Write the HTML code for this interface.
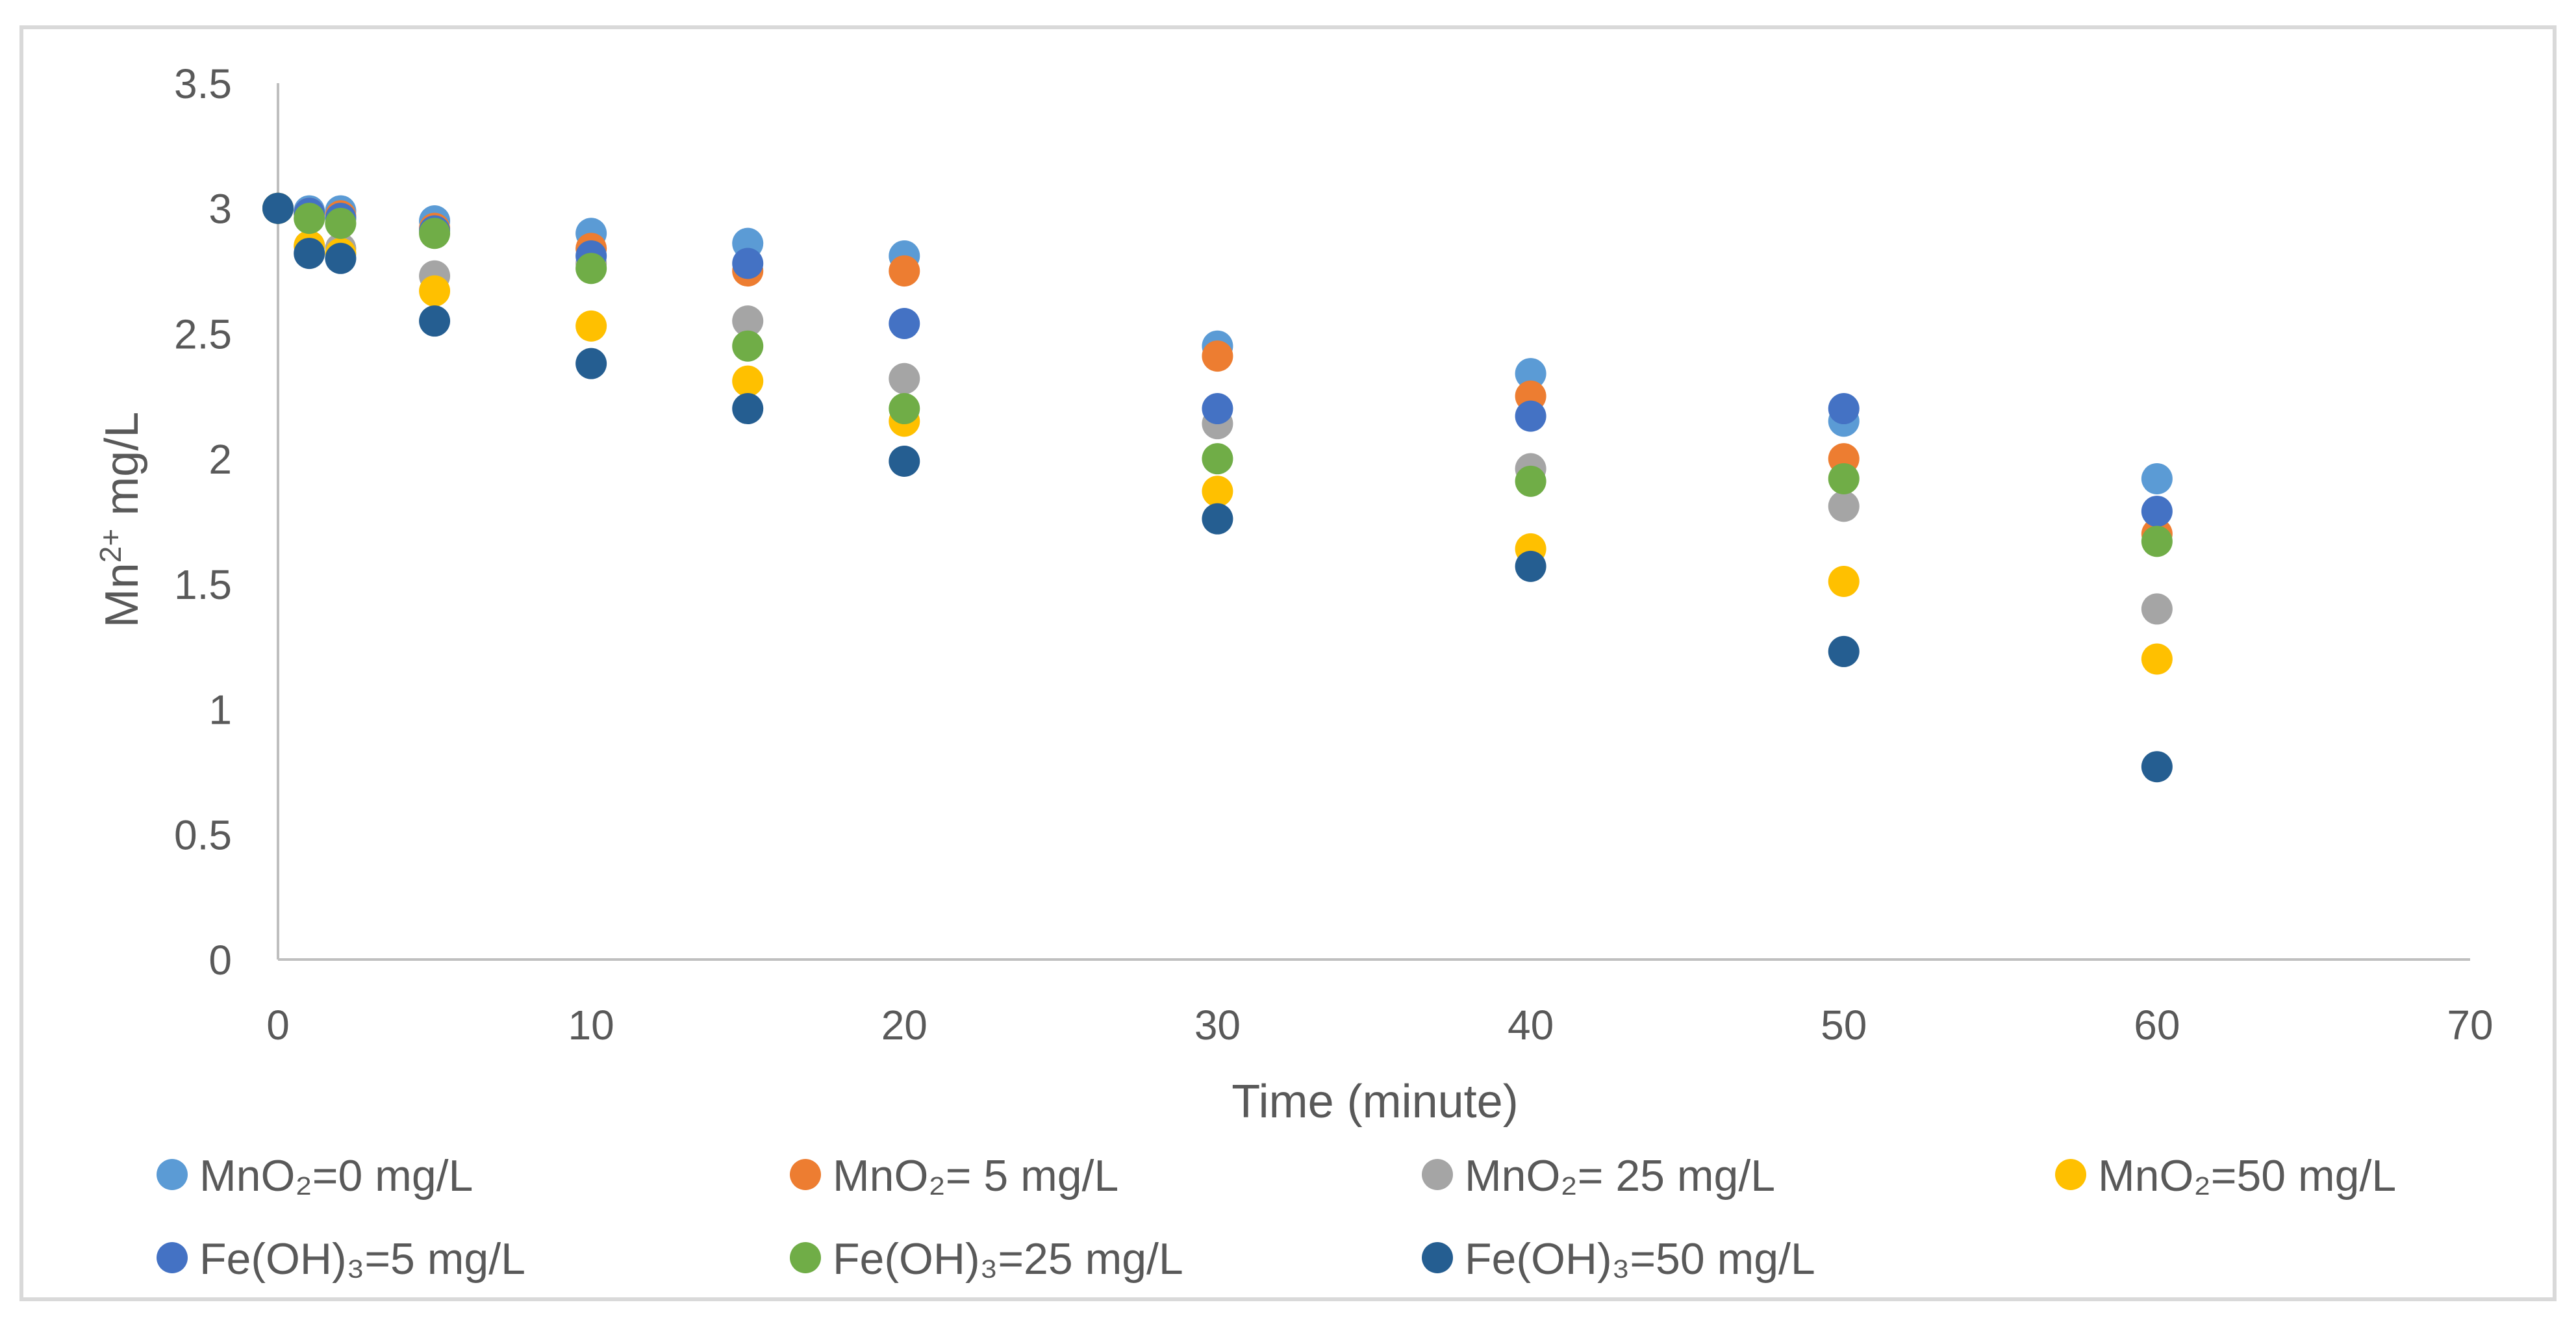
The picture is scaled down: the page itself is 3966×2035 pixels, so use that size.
<!DOCTYPE html>
<html><head><meta charset="utf-8"><style>
html,body{margin:0;padding:0;background:#fff;}
svg text{font-family:"Liberation Sans Narrow","Liberation Sans",sans-serif;fill:#595959;}
</style></head><body>
<svg id="chart" width="3966" height="2030" viewBox="0 0 3966 2030" xmlns="http://www.w3.org/2000/svg">
<rect x="33" y="42" width="3900" height="1958" fill="#fff" stroke="#d9d9d9" stroke-width="6"/>
<g id="grid"></g>
<g id="marks"></g>
<g id="legend"></g>
<text x="2117" y="1720" font-size="72" text-anchor="middle">Time (minute)</text>
<text transform="translate(212,800) rotate(-90)" font-size="72" text-anchor="middle">Mn<tspan dy="-26" font-size="46">2+</tspan><tspan dy="26"> mg/L</tspan></text>
</svg>
<script>
const xTicks=[0,10,20,30,40,50,60,70];
const yTicks=[0,0.5,1,1.5,2,2.5,3,3.5];
const times=[0,1,2,5,10,15,20,30,40,50,60];
const sMnO2_0=[3,2.99,2.99,2.95,2.9,2.86,2.81,2.45,2.34,2.15,1.92];
const sMnO2_5=[3,2.98,2.97,2.92,2.84,2.75,2.75,2.41,2.25,2.0,1.7];
const sMnO2_25=[3,2.85,2.84,2.73,2.78,2.55,2.32,2.14,1.96,1.81,1.40];
const sMnO2_50=[3,2.85,2.82,2.67,2.53,2.31,2.15,1.87,1.64,1.51,1.2];
const sFe_5=[3,2.98,2.96,2.91,2.81,2.78,2.54,2.2,2.17,2.2,1.79];
const sFe_25=[3,2.96,2.94,2.9,2.76,2.45,2.2,2.0,1.91,1.92,1.67];
const sFe_50=[3,2.82,2.8,2.55,2.38,2.2,1.99,1.76,1.57,1.23,0.77];
const seriesNames=["MnO₂=0 mg/L","MnO₂= 5 mg/L","MnO₂= 25 mg/L","MnO₂=50 mg/L","Fe(OH)₃=5 mg/L","Fe(OH)₃=25 mg/L","Fe(OH)₃=50 mg/L"];
const seriesData=[sMnO2_0,sMnO2_5,sMnO2_25,sMnO2_50,sFe_5,sFe_25,sFe_50];
const colors=["#5B9BD5","#ED7D31","#A5A5A5","#FFC000","#4472C4","#70AD47","#255E91"];
const NS="http://www.w3.org/2000/svg";
const X0=428,XW=3803-428,Y0=1477,YH=1477-128;
const xs=v=>X0+v/70*XW, ys=v=>Y0-v/3.5*YH;
function mk(t,a,p){const e=document.createElementNS(NS,t);for(const k in a)e.setAttribute(k,a[k]);p.appendChild(e);return e;}
const grid=document.getElementById('grid');
let ax=mk('line',{x1:X0,y1:ys(3.5),x2:X0,y2:Y0,stroke:'#bfbfbf','stroke-width':4},grid);


let bx=mk('line',{x1:X0,y1:Y0,x2:xs(70),y2:Y0,stroke:'#bfbfbf','stroke-width':4},grid);


yTicks.forEach(v=>{const t=mk('text',{x:357,y:ys(v)+23,'font-size':64,'text-anchor':'end'},grid);t.textContent=String(v);

});
xTicks.forEach(v=>{const t=mk('text',{x:xs(v),y:1600,'font-size':64,'text-anchor':'middle'},grid);t.textContent=String(v);

});
const marks=document.getElementById('marks');
seriesData.forEach((arr,si)=>{arr.forEach((v,i)=>{const c=mk('circle',{cx:xs(times[i]),cy:ys(v),r:24,fill:colors[si]},marks);

});});
const lg=document.getElementById('legend');
const colX=[265,1240,2213,3188],rowY=[1808,1936];
seriesNames.forEach((n,i)=>{const cx=colX[i%4],cy=rowY[Math.floor(i/4)];
const g=mk('g',{},lg);


mk('circle',{cx:cx,cy:cy,r:24,fill:colors[i]},g);
const t=mk('text',{x:cx+42,y:cy+25,'font-size':68},g);t.textContent=n;});
</script>
</body></html>
